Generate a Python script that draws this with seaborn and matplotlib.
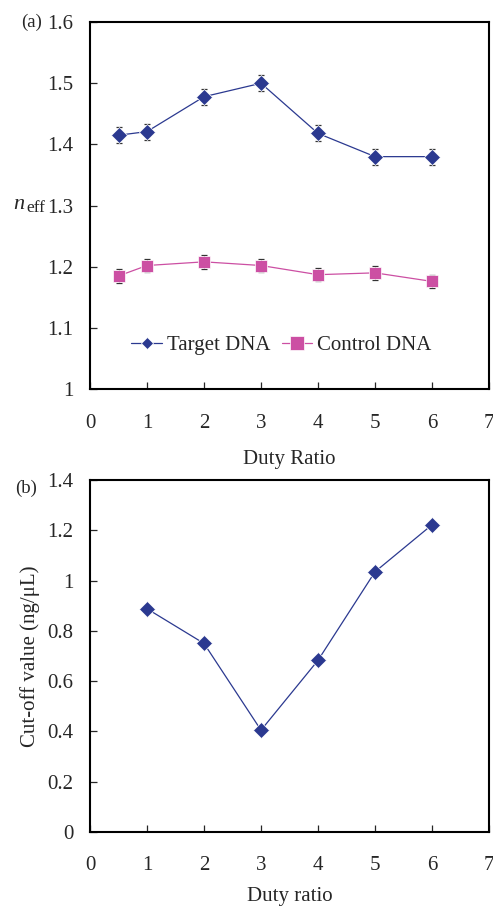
import matplotlib
matplotlib.use("Agg")
import matplotlib.pyplot as plt
import seaborn as sns
import pandas as pd
import numpy as np

sns.set_style("ticks")
plt.rcParams['font.family'] = ['Liberation Serif', 'DejaVu Serif']

duty_a = [0.5, 1, 2, 3, 4, 5, 6]
target = [1.415, 1.421, 1.478, 1.500, 1.418, 1.380, 1.380]
target_err = [0.013, 0.013, 0.013, 0.013, 0.013, 0.013, 0.013]
control = [1.185, 1.202, 1.208, 1.202, 1.187, 1.190, 1.176]
control_err = [0.011, 0.011, 0.011, 0.011, 0.011, 0.011, 0.011]

duty_b = [1, 2, 3, 4, 5, 6]
cutoff = [0.888, 0.750, 0.405, 0.683, 1.035, 1.222]

blue = "#2B3990"
pink = "#CC4FA3"
fs = 15

fig = plt.figure(figsize=(4.93, 9.09), dpi=100)
ax1 = fig.add_axes([0.1826, 0.572, 0.8093, 0.4037])
ax2 = fig.add_axes([0.1826, 0.0847, 0.8093, 0.3872])

df_a = pd.DataFrame({"x": duty_a * 2, "y": target + control,
                     "s": ["Target DNA"] * 7 + ["Control DNA"] * 7})
ax1.errorbar(duty_a, target, yerr=target_err, fmt='none', ecolor='#333333',
             elinewidth=0.9, capsize=2.5, capthick=0.9, zorder=2)
ax1.errorbar(duty_a, control, yerr=control_err, fmt='none', ecolor='#333333',
             elinewidth=0.9, capsize=2.5, capthick=0.9, zorder=2)
sns.lineplot(data=df_a, x="x", y="y", hue="s", style="s",
             palette={"Target DNA": blue, "Control DNA": pink},
             markers={"Target DNA": "D", "Control DNA": "s"},
             dashes=False, ax=ax1, linewidth=0.9, markersize=8.5,
             markeredgewidth=0.5, zorder=3)
ax1.set_xlim(0, 7)
ax1.set_ylim(1.0, 1.6)
ax1.set_xticks(range(0, 8))
ax1.set_yticks([1, 1.1, 1.2, 1.3, 1.4, 1.5, 1.6])
ax1.set_yticklabels(["1", "1.1", "1.2", "1.3", "1.4", "1.5", "1.6"])
ax1.set_xlabel("Duty Ratio", fontsize=fs, labelpad=12)
ax1.set_ylabel("")
leg = ax1.legend(loc='center', bbox_to_anchor=(0.48, 0.12), ncol=2, frameon=False,
                 fontsize=fs, handlelength=1.45, columnspacing=0.55, handletextpad=0.25)
hs = leg.legend_handles
hs[0].set_markersize(6.5)
hs[1].set_markersize(9.5)

sns.lineplot(x=duty_b, y=cutoff, ax=ax2, color=blue, marker="D", linewidth=0.9,
             markersize=8, markeredgewidth=0.5)
ax2.set_xlim(0, 7)
ax2.set_ylim(0, 1.4)
ax2.set_xticks(range(0, 8))
ax2.set_yticks([0, 0.2, 0.4, 0.6, 0.8, 1.0, 1.2, 1.4])
ax2.set_yticklabels(["0", "0.2", "0.4", "0.6", "0.8", "1", "1.2", "1.4"])
ax2.set_xlabel("Duty ratio", fontsize=fs, labelpad=9)
ax2.set_ylabel("Cut-off value (ng/μL)", fontsize=fs, labelpad=5)

for ax in (ax1, ax2):
    for sp in ax.spines.values():
        sp.set_linewidth(1.5)
        sp.set_color('black')
    ax.tick_params(direction='in', length=5, width=0.9, labelsize=fs)
    ax.tick_params(axis='y', pad=12)
ax1.tick_params(axis='x', pad=18)
ax2.tick_params(axis='x', pad=17)

# n_eff label with subscript
ax1.annotate("n", xy=(0, 1.3), xycoords=('axes fraction', 'data'),
             xytext=(-55, 1), textcoords='offset points', ha='left', va='center',
             fontsize=fs + 1, style='italic')
ax1.annotate("eff", xy=(0, 1.3), xycoords=('axes fraction', 'data'),
             xytext=(-45.5, -2), textcoords='offset points', ha='left', va='center',
             fontsize=fs - 2.5)

fig.text(0.043, 0.975, "(a)", fontsize=fs - 1.5, ha='left', va='center')
fig.text(0.031, 0.463, "(b)", fontsize=fs - 1.5, ha='left', va='center')

fig.savefig("out.png", dpi=100)
